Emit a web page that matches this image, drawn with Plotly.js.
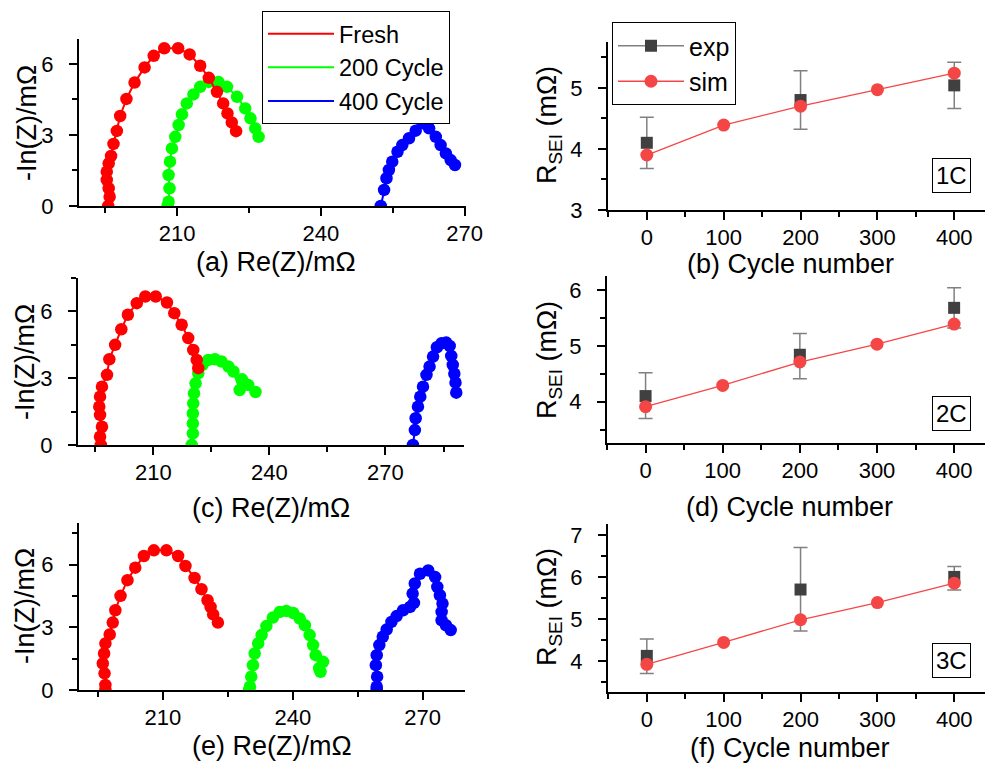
<!DOCTYPE html>
<html>
<head>
<meta charset="utf-8">
<script src="https://cdn.plot.ly/plotly-3.0.1.min.js"></script>
<style>html,body{margin:0;padding:0;background:#fff;}#chart{width:985px;height:765px;}</style>
</head>
<body>
<div id="chart"></div>
<script>
// ---------- Nyquist data (Re(Z), -Im(Z)) in mΩ ----------
// Panel (a) 1C
const a_fresh_x = [195.6, 195.9, 195.7, 195.3, 195.3, 195.7, 196.2, 196.7, 197.4, 198.1, 199.4, 201.1, 203.2, 205.1, 207.3, 210.2, 212.6, 214.8, 216.6, 218.3, 219.6, 220.5, 221.4, 222.3];
const a_fresh_y = [0.0, 0.39, 0.75, 1.10, 1.45, 1.80, 2.11, 2.62, 3.17, 3.80, 4.52, 5.21, 5.85, 6.34, 6.66, 6.66, 6.40, 5.92, 5.41, 4.82, 4.33, 3.91, 3.53, 3.16];
const a_200_x = [208.0, 208.2, 208.4, 208.2, 208.5, 208.9, 209.6, 210.3, 211.0, 212.0, 213.4, 214.8, 216.6, 218.6, 220.4, 222.5, 224.2, 225.3, 226.3, 227.0];
const a_200_y = [0.0, 0.18, 0.75, 1.31, 1.87, 2.43, 2.92, 3.42, 3.87, 4.33, 4.71, 5.03, 5.24, 5.24, 5.03, 4.61, 4.12, 3.70, 3.28, 2.92];
const a_400_x = [252.5, 253.2, 253.7, 254.2, 254.9, 256.0, 257.0, 258.4, 259.8, 261.2, 262.6, 264.0, 265.0, 266.1, 267.1, 268.0];
const a_400_y = [0.0, 0.68, 1.17, 1.52, 1.87, 2.29, 2.57, 2.86, 3.18, 3.49, 3.28, 2.92, 2.57, 2.22, 1.94, 1.73];
// Panel (c) 2C
const c_fresh_x = [196.4, 196.2, 196.7, 196.2, 196.0, 196.2, 196.7, 198.0, 198.6, 200.1, 201.7, 203.4, 205.7, 207.9, 210.6, 213.5, 215.4, 217.3, 219.0, 220.3, 221.2, 221.6];
const c_fresh_y = [0.0, 0.37, 0.82, 1.35, 1.72, 2.17, 2.62, 3.15, 3.85, 4.50, 5.20, 5.85, 6.37, 6.67, 6.67, 6.40, 5.92, 5.40, 4.80, 4.27, 3.82, 3.45];
const c_200_x = [219.9, 220.2, 220.2, 220.2, 220.3, 220.5, 220.9, 221.6, 222.7, 224.2, 225.9, 227.6, 229.4, 230.7, 232.3, 232.9, 234.5, 236.4];
const c_200_y = [0.0, 0.52, 0.97, 1.42, 1.87, 2.32, 2.77, 3.22, 3.60, 3.82, 3.85, 3.75, 3.52, 3.30, 2.47, 2.95, 2.70, 2.38];
const c_400_x = [277.1, 277.6, 277.8, 278.4, 279.0, 279.7, 280.6, 281.4, 282.3, 283.3, 284.5, 285.7, 286.6, 287.0, 287.4, 287.8, 288.1, 288.3];
const c_400_y = [0.0, 0.67, 1.20, 1.72, 2.17, 2.62, 3.15, 3.52, 3.97, 4.39, 4.57, 4.60, 4.45, 4.00, 3.60, 3.20, 2.80, 2.35];
// Panel (e) 3C
const e_fresh_x = [196.7, 196.7, 196.5, 196.1, 196.4, 196.7, 197.7, 198.4, 199.0, 200.2, 201.8, 203.6, 205.6, 207.9, 210.8, 213.5, 215.2, 217.3, 218.9, 220.3, 221.0, 221.6, 222.7];
const e_fresh_y = [0.0, 0.24, 0.80, 1.27, 1.75, 2.23, 2.66, 3.23, 3.82, 4.51, 5.26, 5.86, 6.42, 6.69, 6.69, 6.42, 5.94, 5.37, 4.83, 4.30, 3.98, 3.62, 3.23];
const e_200_x = [229.9, 230.1, 230.4, 230.8, 231.2, 232.0, 232.8, 233.9, 235.4, 237.0, 238.5, 240.1, 241.6, 242.8, 243.9, 244.7, 245.3, 246.1, 246.4, 247.0];
const e_200_y = [0.0, 0.16, 0.64, 1.19, 1.75, 2.23, 2.63, 3.06, 3.47, 3.74, 3.79, 3.69, 3.42, 3.10, 2.63, 2.15, 1.67, 1.04, 0.87, 1.35];
const e_400_x = [259.4, 259.4, 259.5, 259.2, 259.4, 260.0, 260.8, 261.7, 262.8, 264.0, 265.5, 267.1, 268.0, 267.7, 268.2, 269.4, 271.3, 272.9, 273.4, 274.0, 274.6, 274.4, 274.4, 275.4, 276.5];
const e_400_y = [0.0, 0.16, 0.64, 1.19, 1.67, 2.15, 2.55, 2.90, 3.26, 3.54, 3.82, 3.98, 4.17, 4.62, 5.10, 5.57, 5.73, 5.41, 4.94, 4.54, 4.14, 3.74, 3.34, 3.10, 2.87];

// ---------- R_SEI data ----------
const cycles = [0, 100, 200, 300, 400];
const exp1C = [4.10, null, 4.80, null, 5.04];
const exp1C_plus = [0.42, null, 0.48, null, 0.38];
const exp1C_minus = [0.42, null, 0.48, null, 0.38];
const sim1C = [3.90, 4.39, 4.70, 4.97, 5.24];
const exp2C = [4.10, null, 4.84, null, 5.68];
const exp2C_plus = [0.42, null, 0.38, null, 0.36];
const exp2C_minus = [0.40, null, 0.43, null, 0.36];
const sim2C = [3.91, 4.29, 4.71, 5.03, 5.39];
const exp3C = [4.12, null, 5.70, null, 6.00];
const exp3C_plus = [0.40, null, 1.00, null, 0.25];
const exp3C_minus = [0.42, null, 0.99, null, 0.31];
const sim3C = [3.92, 4.44, 4.98, 5.39, 5.85];

const seriesNames = ['Fresh', '200 Cycle', '400 Cycle'];
const rateLabels = ['1C', '2C', '3C'];

// ---------- styling ----------
const FONT = 'Liberation Sans, Arial, sans-serif';
const RED = '#ff0000', GREEN = '#00ff00', BLUE = '#0000ff';
const SIMC = '#f54646', EXPC = '#404040', EXPL = '#808080';
const W = 985, H = 765;

const traces = [];
function nyq(xs, ys, color, ax, name, showLeg, rank) {
  traces.push({x: xs, y: ys, mode: 'lines', line: {color: color, width: 2},
    xaxis: 'x' + ax, yaxis: 'y' + ax, name: name, showlegend: showLeg, legendrank: rank,
    legend: 'legend', hoverinfo: 'skip'});
  traces.push({x: xs, y: ys, mode: 'markers', marker: {color: color, size: 12.5},
    xaxis: 'x' + ax, yaxis: 'y' + ax, name: name, showlegend: false, hoverinfo: 'skip'});
}
// draw green & blue first so red sits on top
nyq(a_200_x, a_200_y, GREEN, '', seriesNames[1], true, 2);
nyq(a_400_x, a_400_y, BLUE, '', seriesNames[2], true, 3);
nyq(a_fresh_x, a_fresh_y, RED, '', seriesNames[0], true, 1);
nyq(c_200_x, c_200_y, GREEN, '3', seriesNames[1], false, 2);
nyq(c_400_x, c_400_y, BLUE, '3', seriesNames[2], false, 3);
nyq(c_fresh_x, c_fresh_y, RED, '3', seriesNames[0], false, 1);
nyq(e_200_x, e_200_y, GREEN, '5', seriesNames[1], false, 2);
nyq(e_400_x, e_400_y, BLUE, '5', seriesNames[2], false, 3);
nyq(e_fresh_x, e_fresh_y, RED, '5', seriesNames[0], false, 1);

function rsei(ax, expY, ePlus, eMinus, simY, showLeg) {
  traces.push({x: cycles, y: expY, mode: 'lines+markers', connectgaps: false, name: 'exp',
    line: {color: EXPL, width: 1.3}, marker: {symbol: 'square', size: 12, color: EXPC},
    error_y: {type: 'data', symmetric: false, array: ePlus, arrayminus: eMinus, color: EXPL, thickness: 1.5, width: 7},
    xaxis: 'x' + ax, yaxis: 'y' + ax, legend: 'legend2', showlegend: showLeg, hoverinfo: 'skip'});
  traces.push({x: cycles, y: simY, mode: 'lines+markers', name: 'sim',
    line: {color: SIMC, width: 1.3}, marker: {symbol: 'circle', size: 13, color: SIMC},
    xaxis: 'x' + ax, yaxis: 'y' + ax, legend: 'legend2', showlegend: showLeg, hoverinfo: 'skip'});
}
rsei('2', exp1C, exp1C_plus, exp1C_minus, sim1C, true);
rsei('4', exp2C, exp2C_plus, exp2C_minus, sim2C, false);
rsei('6', exp3C, exp3C_plus, exp3C_minus, sim3C, false);

function base(extra, isY) {
  return Object.assign({
    showline: true, linecolor: '#000', linewidth: 2, mirror: false,
    ticks: 'outside', ticklen: 8, tickwidth: 2, tickcolor: '#000',
    showgrid: false, zeroline: false, fixedrange: true,
    tickfont: {family: FONT, size: 22, color: '#000'}, ticklabelstandoff: isY ? 11 : -1
  }, extra);
}
function mt(d) { return {ticks: 'outside', ticklen: 5, tickwidth: 2, tickcolor: '#000', tick0: 0, dtick: d}; }
function dx(l, r) { return [l / W, r / W]; }
function dy(t, b) { return [1 - b / H, 1 - t / H]; }

const layout = {
  width: W, height: H, margin: {l: 0, r: 0, t: 0, b: 0},
  paper_bgcolor: '#fff', plot_bgcolor: 'rgba(0,0,0,0)',
  font: {family: FONT, color: '#000'},
  showlegend: true,
  // (a)
  xaxis: base({domain: dx(79, 466), range: [189.5, 270.3], anchor: 'y', tick0: 0, dtick: 30, minor: mt(15)}),
  yaxis: base({domain: dy(39, 206), range: [0, 7.05], anchor: 'x', tick0: 0, dtick: 3, minor: mt(1.5)}, true),
  // (b)
  xaxis2: base({domain: dx(608, 985), range: [-50.5, 440], anchor: 'y2', tick0: 0, dtick: 100, minor: mt(50)}),
  yaxis2: base({domain: dy(42, 210), range: [3, 5.75], anchor: 'x2', tick0: 0, dtick: 1, minor: mt(0.5)}, true),
  // (c)
  xaxis3: base({domain: dx(78, 464), range: [190.5, 290.3], anchor: 'y3', tick0: 0, dtick: 30, minor: mt(15)}),
  yaxis3: base({domain: dy(278, 445), range: [0, 7.5], anchor: 'x3', tick0: 0, dtick: 3, minor: mt(1.5)}, true),
  // (d)
  xaxis4: base({domain: dx(607, 985), range: [-50, 440], anchor: 'y4', tick0: 0, dtick: 100, minor: mt(50)}),
  yaxis4: base({domain: dy(276, 443), range: [3.26, 6.25], anchor: 'x4', tick0: 0, dtick: 1, minor: mt(0.5)}, true),
  // (e)
  xaxis5: base({domain: dx(79, 465), range: [190.6, 279.8], anchor: 'y5', tick0: 0, dtick: 30, minor: mt(15)}),
  yaxis5: base({domain: dy(523, 690), range: [0, 8], anchor: 'x5', tick0: 0, dtick: 3, minor: mt(1.5)}, true),
  // (f)
  xaxis6: base({domain: dx(608, 985), range: [-50.5, 440], anchor: 'y6', tick0: 0, dtick: 100, minor: mt(50)}),
  yaxis6: base({domain: dy(524, 692), range: [3.26, 7.26], anchor: 'x6', tick0: 0, dtick: 1, minor: mt(0.5)}, true),
  legend: {x: 262 / W, y: 1 - 11 / H, xanchor: 'left', yanchor: 'top', bgcolor: '#fff',
    bordercolor: '#000', borderwidth: 1, font: {family: FONT, size: 23.5, color: '#000'},
    itemwidth: 66, tracegroupgap: 0, traceorder: 'normal'},
  legend2: {x: 612 / W, y: 1 - 22 / H, xanchor: 'left', yanchor: 'top', bgcolor: '#fff',
    bordercolor: '#000', borderwidth: 1, font: {family: FONT, size: 25, color: '#000'},
    itemwidth: 66, tracegroupgap: 0},
  annotations: []
};

const TF = {family: FONT, size: 27, color: '#000'};
function ann(text, xp, yp, angle) {
  layout.annotations.push({text: text, xref: 'paper', yref: 'paper', x: xp / W, y: 1 - yp / H,
    xanchor: 'center', yanchor: 'middle', showarrow: false, font: TF, textangle: angle || 0});
}
ann('(a) Re(Z)/mΩ', 276, 262);
ann('(c) Re(Z)/mΩ', 271, 508);
ann('(e) Re(Z)/mΩ', 272, 746);
ann('(b) Cycle number', 790, 264);
ann('(d) Cycle number', 789, 507);
ann('(f) Cycle number', 790, 748);
ann('-In(Z)/mΩ', 27, 123, -90);
ann('-In(Z)/mΩ', 25, 362, -90);
ann('-In(Z)/mΩ', 25, 606, -90);
ann('R<sub>SEI</sub> (mΩ)', 549, 125, -90);
ann('R<sub>SEI</sub> (mΩ)', 549, 360, -90);
ann('R<sub>SEI</sub> (mΩ)', 549, 607, -90);

const boxY = [176, 413, 660];
rateLabels.forEach(function (t, i) {
  layout.annotations.push({text: t, xref: 'paper', yref: 'paper', x: 951 / W, y: 1 - boxY[i] / H,
    xanchor: 'center', yanchor: 'middle', showarrow: false,
    font: {family: FONT, size: 24, color: '#000'}, bordercolor: '#000', borderwidth: 1,
    borderpad: 3, bgcolor: '#fff'});
});

Plotly.newPlot('chart', traces, layout, {staticPlot: true, displayModeBar: false});
</script>
</body>
</html>
